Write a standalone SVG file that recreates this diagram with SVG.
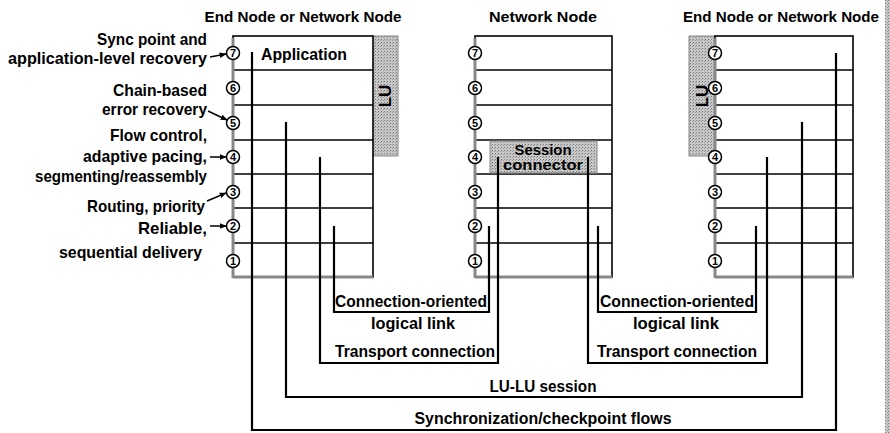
<svg xmlns="http://www.w3.org/2000/svg" width="890" height="433" viewBox="0 0 890 433">
<defs>
<pattern id="dots" width="3" height="3" patternUnits="userSpaceOnUse">
<rect width="3" height="3" fill="#c8c8c8"/>
<rect width="1" height="1" fill="#777"/>
<rect x="2" y="1" width="1" height="1" fill="#999"/>
</pattern>
<marker id="arr" viewBox="0 0 10 10" refX="9" refY="5" markerWidth="7" markerHeight="7" orient="auto" markerUnits="userSpaceOnUse">
<path d="M0,1 L10,5 L0,9 Z" fill="#000"/>
</marker>
<style>
text{font-family:"Liberation Sans",Arial,sans-serif;font-weight:bold;fill:#000}
.t{font-size:17px}
.h{font-size:15.5px}
.s{font-size:14.5px}
.r{text-anchor:end}
.m{text-anchor:middle}
.box{fill:#fff;stroke:#000;stroke-width:1.6}
.row{stroke:#000;stroke-width:1.5}
.edge{stroke:#888;stroke-width:3}
.lu{fill:url(#dots);stroke:#888;stroke-width:1}
.c{fill:#fff;stroke:#000;stroke-width:1.5}
.n{font-size:11px;text-anchor:middle}
.con{fill:none;stroke:#000;stroke-width:2.2}
.ar{stroke:#000;stroke-width:1.5;marker-end:url(#arr)}
</style>
</defs>
<rect x="0" y="0" width="890" height="433" fill="#fff"/>
<rect x="885" y="0" width="5" height="433" fill="url(#dots)"/>

<g id="labels">
<text class="t r" x="207" y="45" textLength="110" lengthAdjust="spacingAndGlyphs">Sync point and</text>
<text class="t r" x="207" y="64" textLength="199" lengthAdjust="spacingAndGlyphs">application-level recovery</text>
<text class="t r" x="207" y="96" textLength="94" lengthAdjust="spacingAndGlyphs">Chain-based</text>
<text class="t r" x="207" y="115" textLength="105" lengthAdjust="spacingAndGlyphs">error recovery</text>
<text class="t r" x="207" y="141" textLength="97" lengthAdjust="spacingAndGlyphs">Flow control,</text>
<text class="t r" x="207" y="162" textLength="124" lengthAdjust="spacingAndGlyphs">adaptive pacing,</text>
<text class="t r" x="207" y="182" textLength="172" lengthAdjust="spacingAndGlyphs">segmenting/reassembly</text>
<text class="t r" x="205" y="212" textLength="118" lengthAdjust="spacingAndGlyphs">Routing, priority</text>
<text class="t r" x="207" y="234" textLength="69" lengthAdjust="spacingAndGlyphs">Reliable,</text>
<text class="t r" x="202" y="258" textLength="143" lengthAdjust="spacingAndGlyphs">sequential delivery</text>
<line class="ar" x1="210" y1="57" x2="226" y2="54"/>
<line class="ar" x1="208" y1="111" x2="227" y2="120"/>
<line class="ar" x1="210" y1="157" x2="226" y2="157"/>
<line class="ar" x1="207" y1="201" x2="226" y2="193"/>
<line class="ar" x1="210" y1="226" x2="226" y2="226"/>
</g>

<g id="node-left">
<text class="h m" x="303" y="22" textLength="197" lengthAdjust="spacingAndGlyphs">End Node or Network Node</text>
<rect class="lu" x="372" y="36" width="26" height="120"/>
<text class="t m" transform="translate(391,96) rotate(-90)">LU</text>
<rect class="box" x="233" y="36" width="140" height="241"/>
<line class="row" x1="233" y1="70" x2="373" y2="70"/>
<line class="row" x1="233" y1="105" x2="373" y2="105"/>
<line class="row" x1="233" y1="140" x2="373" y2="140"/>
<line class="row" x1="233" y1="174" x2="373" y2="174"/>
<line class="row" x1="233" y1="208" x2="373" y2="208"/>
<line class="row" x1="233" y1="243" x2="373" y2="243"/>
<line class="edge" x1="233" y1="38" x2="233" y2="278"/>
<line class="edge" x1="233" y1="277" x2="373" y2="277"/>
<text class="t" x="261" y="60" textLength="86" lengthAdjust="spacingAndGlyphs">Application</text>
<circle class="c" cx="233" cy="53" r="6.5"/><text class="n" x="233" y="57">7</text>
<circle class="c" cx="233" cy="88" r="6.5"/><text class="n" x="233" y="92">6</text>
<circle class="c" cx="233" cy="123" r="6.5"/><text class="n" x="233" y="127">5</text>
<circle class="c" cx="233" cy="157" r="6.5"/><text class="n" x="233" y="161">4</text>
<circle class="c" cx="233" cy="192" r="6.5"/><text class="n" x="233" y="196">3</text>
<circle class="c" cx="233" cy="226" r="6.5"/><text class="n" x="233" y="230">2</text>
<circle class="c" cx="233" cy="261" r="6.5"/><text class="n" x="233" y="265">1</text>
</g>

<g id="node-middle">
<text class="h m" x="543" y="22" textLength="108" lengthAdjust="spacingAndGlyphs">Network Node</text>
<rect class="box" x="475" y="36" width="137" height="241"/>
<line class="row" x1="475" y1="70" x2="612" y2="70"/>
<line class="row" x1="475" y1="105" x2="612" y2="105"/>
<line class="row" x1="475" y1="140" x2="612" y2="140"/>
<line class="row" x1="475" y1="174" x2="612" y2="174"/>
<line class="row" x1="475" y1="208" x2="612" y2="208"/>
<line class="row" x1="475" y1="243" x2="612" y2="243"/>
<rect class="lu" x="490" y="141" width="107" height="32"/>
<text class="s m" x="543" y="155" textLength="57" lengthAdjust="spacingAndGlyphs">Session</text>
<text class="s m" x="543" y="170" textLength="80" lengthAdjust="spacingAndGlyphs">connector</text>
<line class="edge" x1="475" y1="38" x2="475" y2="278"/>
<line class="edge" x1="475" y1="277" x2="612" y2="277"/>
<circle class="c" cx="475" cy="53" r="6.5"/><text class="n" x="475" y="57">7</text>
<circle class="c" cx="475" cy="88" r="6.5"/><text class="n" x="475" y="92">6</text>
<circle class="c" cx="475" cy="123" r="6.5"/><text class="n" x="475" y="127">5</text>
<circle class="c" cx="475" cy="157" r="6.5"/><text class="n" x="475" y="161">4</text>
<circle class="c" cx="475" cy="192" r="6.5"/><text class="n" x="475" y="196">3</text>
<circle class="c" cx="475" cy="226" r="6.5"/><text class="n" x="475" y="230">2</text>
<circle class="c" cx="475" cy="261" r="6.5"/><text class="n" x="475" y="265">1</text>
</g>

<g id="node-right">
<text class="h m" x="781" y="22" textLength="196" lengthAdjust="spacingAndGlyphs">End Node or Network Node</text>
<rect class="lu" x="689" y="36" width="26" height="120"/>
<text class="t m" transform="translate(708,96) rotate(-90)">LU</text>
<rect class="box" x="715" y="36" width="138" height="241"/>
<line class="row" x1="715" y1="70" x2="853" y2="70"/>
<line class="row" x1="715" y1="105" x2="853" y2="105"/>
<line class="row" x1="715" y1="140" x2="853" y2="140"/>
<line class="row" x1="715" y1="174" x2="853" y2="174"/>
<line class="row" x1="715" y1="208" x2="853" y2="208"/>
<line class="row" x1="715" y1="243" x2="853" y2="243"/>
<line class="edge" x1="715" y1="38" x2="715" y2="278"/>
<line class="edge" x1="715" y1="277" x2="853" y2="277"/>
<circle class="c" cx="715" cy="53" r="6.5"/><text class="n" x="715" y="57">7</text>
<circle class="c" cx="715" cy="88" r="6.5"/><text class="n" x="715" y="92">6</text>
<circle class="c" cx="715" cy="123" r="6.5"/><text class="n" x="715" y="127">5</text>
<circle class="c" cx="715" cy="157" r="6.5"/><text class="n" x="715" y="161">4</text>
<circle class="c" cx="715" cy="192" r="6.5"/><text class="n" x="715" y="196">3</text>
<circle class="c" cx="715" cy="226" r="6.5"/><text class="n" x="715" y="230">2</text>
<circle class="c" cx="715" cy="261" r="6.5"/><text class="n" x="715" y="265">1</text>
</g>

<g id="connectors">
<path class="con" d="M252,52 V430 H836 V53"/>
<path class="con" d="M286,122 V397 H802 V122"/>
<path class="con" d="M320,157 V363 H498 V157"/>
<path class="con" d="M334,226 V312 H489 V226"/>
<path class="con" d="M588,157 V363 H767 V157"/>
<path class="con" d="M598,226 V312 H756 V226"/>
<text class="t m" x="411" y="307" textLength="152" lengthAdjust="spacingAndGlyphs">Connection-oriented</text>
<text class="t m" x="413" y="329" textLength="84" lengthAdjust="spacingAndGlyphs">logical link</text>
<text class="t m" x="415" y="357" textLength="160" lengthAdjust="spacingAndGlyphs">Transport connection</text>
<text class="t m" x="677" y="307" textLength="154" lengthAdjust="spacingAndGlyphs">Connection-oriented</text>
<text class="t m" x="676" y="329" textLength="86" lengthAdjust="spacingAndGlyphs">logical link</text>
<text class="t m" x="677" y="357" textLength="160" lengthAdjust="spacingAndGlyphs">Transport connection</text>
<text class="t m" x="543" y="392" textLength="107" lengthAdjust="spacingAndGlyphs">LU-LU session</text>
<text class="t m" x="543" y="424" textLength="257" lengthAdjust="spacingAndGlyphs">Synchronization/checkpoint flows</text>
</g>
</svg>
